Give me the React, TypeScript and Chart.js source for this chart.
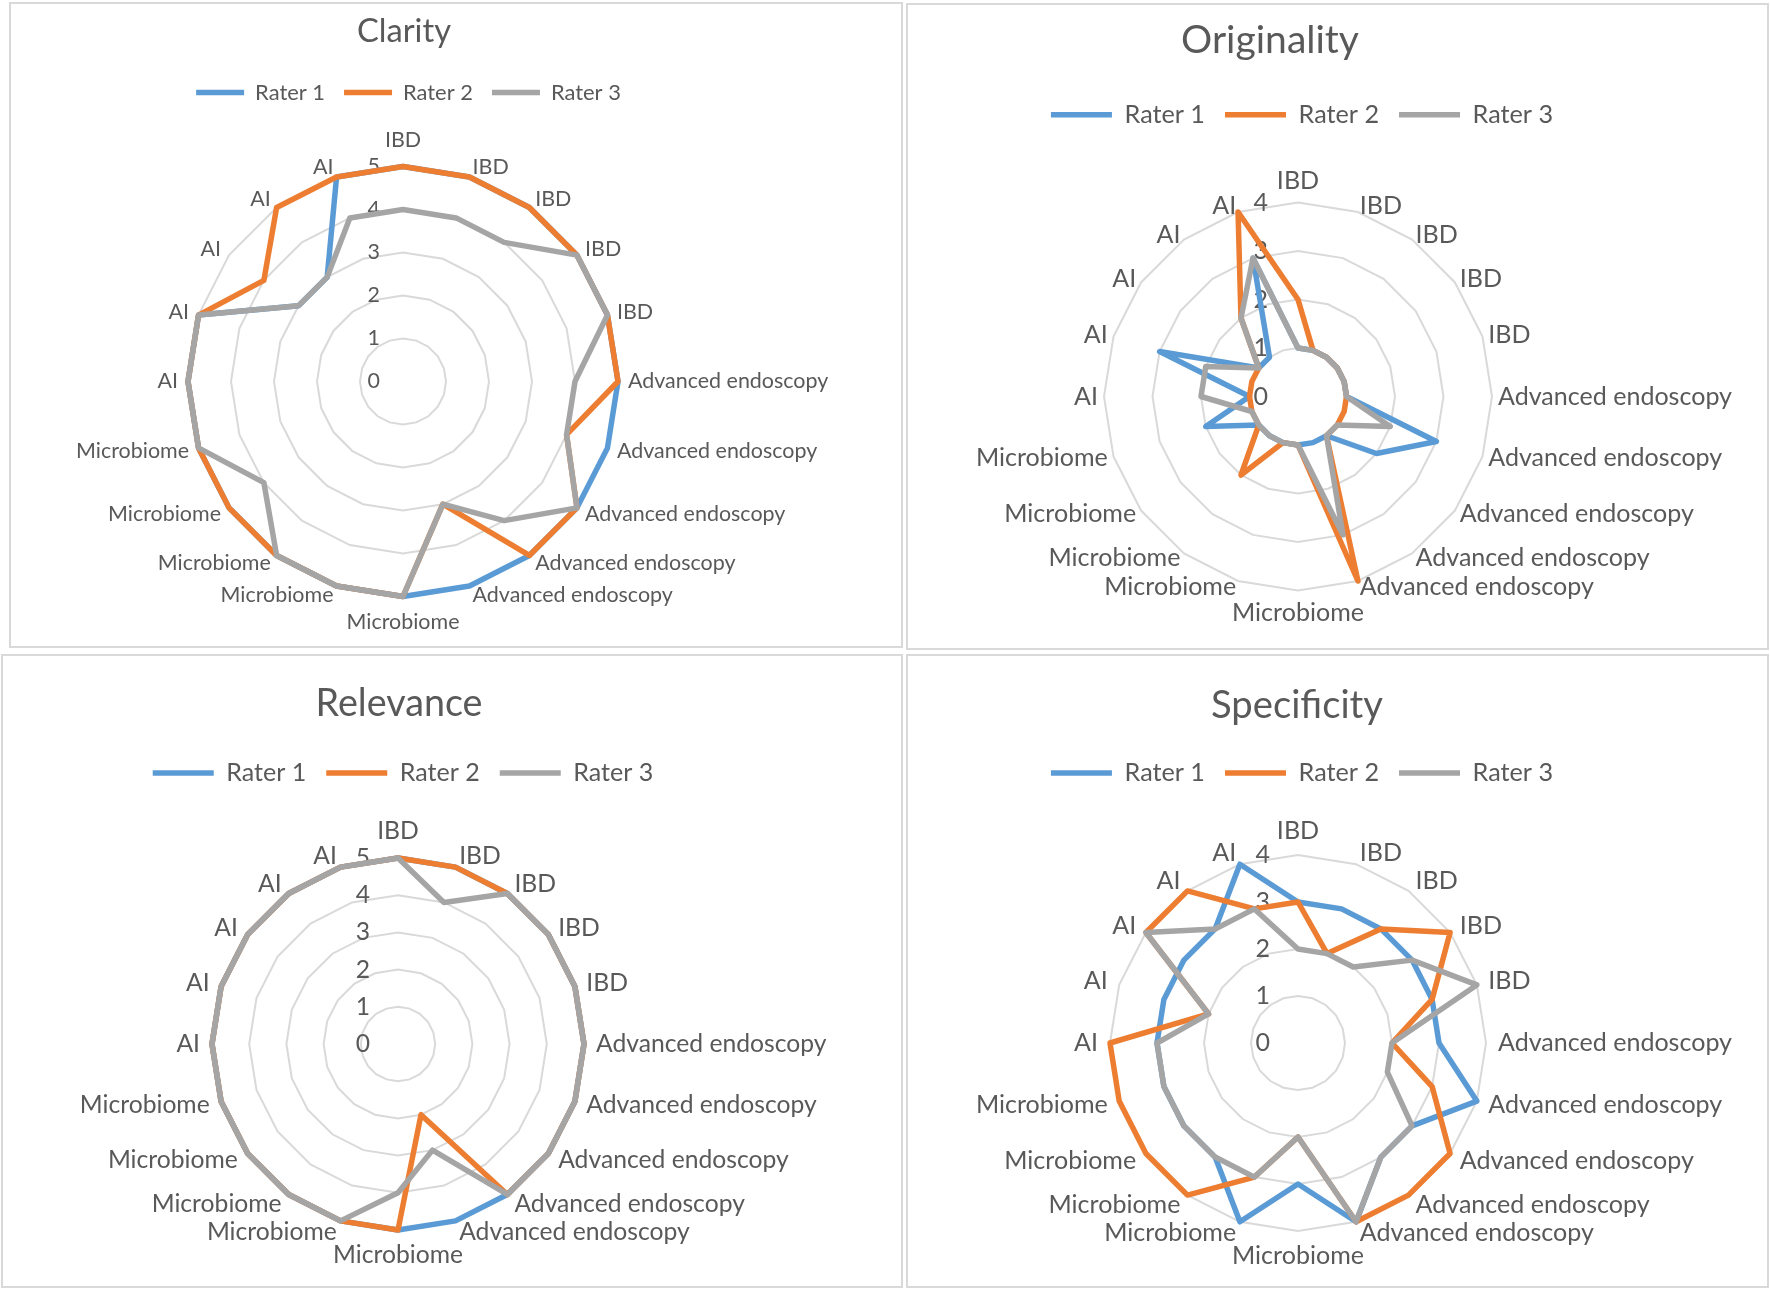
import React, { useEffect, useRef } from 'react';
import { Chart, registerables } from 'chart.js';

Chart.register(...registerables);

const FONT = 'Lato, "Noto Sans", sans-serif';
const TEXT = '#595959';
const GRID = '#d9d9d9';
const COLORS = ['#5b9bd5', '#ed7d31', '#a5a5a5'];

const categories = [
  'IBD', 'IBD', 'IBD', 'IBD', 'IBD',
  'Advanced endoscopy', 'Advanced endoscopy', 'Advanced endoscopy', 'Advanced endoscopy', 'Advanced endoscopy',
  'Microbiome', 'Microbiome', 'Microbiome', 'Microbiome', 'Microbiome',
  'AI', 'AI', 'AI', 'AI', 'AI',
];
const raters = ['Rater 1', 'Rater 2', 'Rater 3'];

const fiveTicks = [0, 1, 2, 3, 4, 5];
const fourTicks = [0, 1, 2, 3, 4];

const clarityRater1 = [5, 5, 5, 5, 5, 5, 5, 5, 5, 5, 5, 5, 5, 5, 5, 5, 5, 3, 3, 5];
const clarityRater2 = [5, 5, 5, 5, 5, 5, 4, 5, 5, 3, 5, 5, 5, 5, 5, 5, 5, 4, 5, 5];
const clarityRater3 = [4, 4, 4, 5, 5, 4, 4, 5, 4, 3, 5, 5, 5, 4, 5, 5, 5, 3, 3, 4];

const originalityRater1 = [1, 1, 1, 1, 1, 1, 3, 2, 1, 1, 1, 1, 1, 1, 2, 1, 3, 1, 1, 3];
const originalityRater2 = [2, 1, 1, 1, 1, 1, 1, 1, 1, 4, 1, 1, 2, 1, 1, 1, 1, 1, 2, 4];
const originalityRater3 = [1, 1, 1, 1, 1, 1, 2, 1, 1, 3, 1, 1, 1, 1, 1, 2, 2, 1, 2, 3];

const relevanceRater1 = [5, 5, 5, 5, 5, 5, 5, 5, 5, 5, 5, 5, 5, 5, 5, 5, 5, 5, 5, 5];
const relevanceRater2 = [5, 5, 5, 5, 5, 5, 5, 5, 5, 2, 5, 5, 5, 5, 5, 5, 5, 5, 5, 5];
const relevanceRater3 = [5, 4, 5, 5, 5, 5, 5, 5, 5, 3, 4, 5, 5, 5, 5, 5, 5, 5, 5, 5];

const specificityRater1 = [3, 3, 3, 3, 3, 3, 4, 3, 3, 4, 3, 4, 3, 3, 3, 3, 3, 3, 3, 4];
const specificityRater2 = [3, 2, 3, 4, 3, 2, 3, 4, 4, 4, 2, 3, 4, 4, 4, 4, 2, 4, 4, 3];
const specificityRater3 = [2, 2, 2, 3, 4, 2, 2, 3, 3, 4, 2, 3, 3, 3, 3, 3, 2, 4, 3, 3];

function fitSize(text: string, width: number): number {
  const c = document.createElement('canvas').getContext('2d') as CanvasRenderingContext2D;
  c.font = `100px ${FONT}`;
  return (100 * width) / c.measureText(text).width;
}

const panels = [
  {
    title: 'Clarity', series: [clarityRater1, clarityRater2, clarityRater3], ticks: fiveTicks,
    box: { x: 9, y: 2, w: 894, h: 646 }, center: { x: 394, y: 379.5, r: 215 },
    titleX: 395, titleY: 29.5, titleW: 94,
    legendX: 399.5, legendY: 90.6, legendW: 70, lineLen: 48, gap: 19,
    labelW: 113, labelPad: 10, topGap: 16.5, bottomGap: 15.5, tickOffset: 23,
  },
  {
    title: 'Originality', series: [originalityRater1, originalityRater2, originalityRater3], ticks: fourTicks,
    box: { x: 906, y: 3, w: 863, h: 647 }, center: { x: 392, y: 393.5, r: 194 },
    titleX: 364, titleY: 37, titleW: 178,
    legendX: 396, legendY: 111.8, legendW: 80.5, lineLen: 61, gap: 20,
    labelW: 132, labelPad: 6, topGap: 16, bottomGap: 16, tickOffset: 30,
  },
  {
    title: 'Relevance', series: [relevanceRater1, relevanceRater2, relevanceRater3], ticks: fiveTicks,
    box: { x: 1, y: 654, w: 902, h: 634 }, center: { x: 397, y: 390, r: 186 },
    titleX: 398, titleY: 50, titleW: 167,
    legendX: 402, legendY: 119, legendW: 80, lineLen: 61, gap: 20,
    labelW: 130, labelPad: 12, topGap: 15, bottomGap: 13, tickOffset: 28,
  },
  {
    title: 'Specificity', series: [specificityRater1, specificityRater2, specificityRater3], ticks: fourTicks,
    box: { x: 906, y: 654, w: 863, h: 634 }, center: { x: 392, y: 389, r: 188 },
    titleX: 391, titleY: 51.7, titleW: 172,
    legendX: 396, legendY: 119, legendW: 80.5, lineLen: 61, gap: 20,
    labelW: 132, labelPad: 12, topGap: 12, bottomGap: 13, tickOffset: 28,
  },
];

const decorPlugin = {
  id: 'decor',
  beforeDraw(chart: any, _args: any, o: any) {
    const { ctx, width, height } = chart;
    ctx.save();
    ctx.fillStyle = '#ffffff';
    ctx.fillRect(0, 0, width, height);
    ctx.strokeStyle = GRID;
    ctx.lineWidth = 2;
    ctx.strokeRect(1, 1, width - 2, height - 2);
    ctx.fillStyle = TEXT;
    ctx.font = `${o.titleSize}px ${FONT}`;
    ctx.textAlign = 'center';
    ctx.textBaseline = 'middle';
    ctx.fillText(o.title, o.titleX, o.titleY);
    ctx.restore();
  },
  beforeDatasetsDraw(chart: any, _args: any, o: any) {
    const scale = chart.scales.r;
    const ctx = chart.ctx;
    ctx.save();
    ctx.fillStyle = TEXT;
    ctx.font = `${o.labelSize}px ${FONT}`;
    ctx.textAlign = 'right';
    ctx.textBaseline = 'middle';
    o.ticks.forEach((v: number) => {
      const d = scale.getDistanceFromCenterForValue(v);
      ctx.fillText(String(v), scale.xCenter - o.tickOffset, scale.yCenter - d);
    });
    const labels: string[] = chart.data.labels;
    const n = labels.length;
    labels.forEach((lab, i) => {
      const ang = Math.round((360 / n) * i);
      const p = scale.getPointPosition(i, scale.drawingArea + o.labelPad);
      let align = 'left';
      let y = p.y;
      if (ang === 0) {
        align = 'center';
        y = p.y - o.topGap;
      } else if (ang === 180) {
        align = 'center';
        y = p.y + o.bottomGap;
      } else if (ang > 180) {
        align = 'right';
      }
      ctx.textAlign = align;
      ctx.fillText(lab, p.x, y);
    });
    ctx.restore();
  },
};

function RadarPanel({ spec }: { spec: any }) {
  const ref = useRef<HTMLCanvasElement>(null);
  useEffect(() => {
    const titleSize = fitSize(spec.title, spec.titleW);
    const legendSize = fitSize('Rater 1', spec.legendW);
    const labelSize = fitSize('Microbiome', spec.labelW);
    const padTop = spec.legendY - spec.gap - legendSize / 2;
    const padRight = spec.box.w - 2 * spec.legendX;
    const max = spec.ticks[spec.ticks.length - 1];
    const chart = new Chart(ref.current as HTMLCanvasElement, {
      type: 'radar',
      data: {
        labels: categories,
        datasets: raters.map((name, k) => ({
          label: name,
          data: spec.series[k],
          borderColor: COLORS[k],
          backgroundColor: COLORS[k],
          borderWidth: 5.5,
          borderJoinStyle: 'round',
          borderCapStyle: 'round',
          pointRadius: 0,
          pointHoverRadius: 0,
          fill: false,
          tension: 0,
          order: 3 - k,
          clip: false,
        })),
      },
      options: {
        responsive: false,
        maintainAspectRatio: false,
        animation: false,
        events: [],
        layout: { padding: { top: padTop, left: 0, right: padRight, bottom: 0 } },
        scales: {
          r: {
            min: 0,
            max,
            ticks: { display: false, stepSize: 1 },
            grid: { color: GRID, lineWidth: 2, circular: false },
            angleLines: { display: false },
            pointLabels: { display: false },
            afterFit: (scale: any) => {
              scale.xCenter = spec.center.x;
              scale.yCenter = spec.center.y;
              scale.drawingArea = spec.center.r;
            },
          },
        },
        plugins: {
          title: { display: false },
          tooltip: { enabled: false },
          legend: {
            display: true,
            position: 'top',
            labels: {
              usePointStyle: true,
              pointStyle: 'line',
              pointStyleWidth: spec.lineLen,
              padding: spec.gap,
              color: TEXT,
              font: { family: FONT, size: legendSize },
              sort: (a: any, b: any) => a.datasetIndex - b.datasetIndex,
            },
          },
          decor: {
            title: spec.title,
            titleSize,
            titleX: spec.titleX,
            titleY: spec.titleY,
            labelSize,
            labelPad: spec.labelPad,
            topGap: spec.topGap,
            bottomGap: spec.bottomGap,
            tickOffset: spec.tickOffset,
            ticks: spec.ticks,
          },
        },
      } as any,
      plugins: [decorPlugin as any],
    });
    return () => chart.destroy();
  }, []);
  return (
    <canvas
      ref={ref}
      width={spec.box.w}
      height={spec.box.h}
      style={{ position: 'absolute', left: spec.box.x, top: spec.box.y, width: spec.box.w, height: spec.box.h }}
    />
  );
}

export default function App() {
  return (
    <div style={{ position: 'absolute', left: 0, top: 0, width: 1770, height: 1290, background: '#ffffff' }}>
      {panels.map((p) => (
        <RadarPanel key={p.title} spec={p} />
      ))}
    </div>
  );
}
